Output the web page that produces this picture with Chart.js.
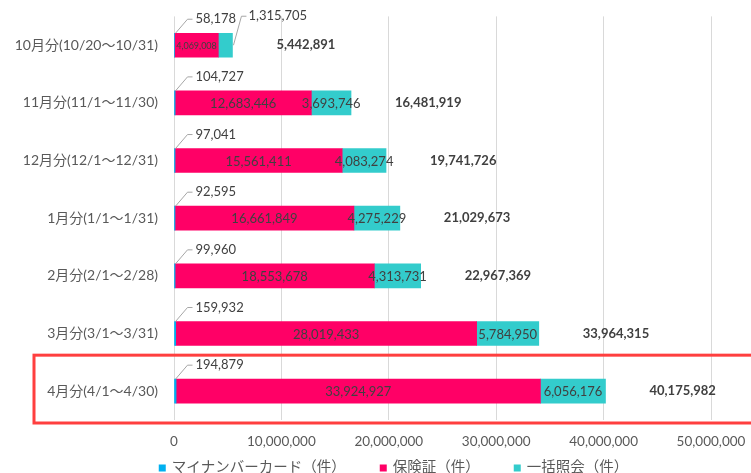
<!DOCTYPE html>
<html>
<head>
<meta charset="utf-8">
<script src="https://cdn.jsdelivr.net/npm/chart.js@4.4.0/dist/chart.umd.min.js"></script>
<style>
  html, body { margin: 0; padding: 0; background: #fff; }
  #wrap { width: 751px; height: 473px; }
</style>
</head>
<body>
<div id="wrap"><canvas id="bar-chart"></canvas></div>
<script>
// data
var months = ['10月分(10/20～10/31)', '11月分(11/1～11/30)', '12月分(12/1～12/31)',
    '1月分(1/1～1/31)', '2月分(2/1～2/28)', '3月分(3/1～3/31)', '4月分(4/1～4/30)'];
var mynumberData = [58178, 104727, 97041, 92595, 99960, 159932, 194879];
var hokenshoData = [4069008, 12683446, 15561411, 16661849, 18553678, 28019433, 33924927];
var ikkatsuData = [1315705, 3693746, 4083274, 4275229, 4313731, 5784950, 6056176];
var seriesNames = ['マイナンバーカード（件）', '保険証（件）', '一括照会（件）'];
var xTicks = [0, 10000000, 20000000, 30000000, 40000000, 50000000];

var colors = ['#00B0F0', '#FF0066', '#33CCCC'];
var FONT = 'Lato, "Noto Sans CJK JP", sans-serif';
var JP = '"Noto Sans CJK JP", sans-serif';

function fmt(v) { return v.toLocaleString('en-US'); }

// labels, leader lines, totals, highlight box and legend
var labelPlugin = {
    id: 'labels',
    afterDatasetsDraw: function(chart) {
        var ctx = chart.ctx;
        var ys = chart.scales.y;
        ctx.save();
        ctx.textBaseline = 'middle';

        // マイナンバー (tiny) : above the bar with leader line
        chart.getDatasetMeta(0).data.forEach(function(el, i) {
            var base = el.base;
            var top = el.y - el.height / 2;
            var ty = el.y - 26;
            ctx.strokeStyle = '#A6A6A6';
            ctx.lineWidth = 1;
            ctx.beginPath();
            ctx.moveTo(base + 1, top);
            ctx.lineTo(base + 13, ty);
            ctx.lineTo(base + 18, ty);
            ctx.stroke();
            ctx.fillStyle = '#404040';
            ctx.font = '13px ' + FONT;
            ctx.textAlign = 'left';
            ctx.fillText(fmt(mynumberData[i]), base + 21, ty);
        });

        // 保険証 : centered, shrink when it does not fit
        chart.getDatasetMeta(1).data.forEach(function(el, i) {
            var txt = fmt(hokenshoData[i]);
            var w = el.x - el.base;
            var size = 13;
            ctx.font = size + 'px ' + FONT;
            while (ctx.measureText(txt).width > w - 1 && size > 8) {
                size -= 0.5;
                ctx.font = size + 'px ' + FONT;
            }
            ctx.fillStyle = '#404040';
            ctx.textAlign = 'center';
            ctx.fillText(txt, (el.x + el.base) / 2, el.y + 1);
        });

        // 一括照会 : centered or outside with leader
        chart.getDatasetMeta(2).data.forEach(function(el, i) {
            var txt = fmt(ikkatsuData[i]);
            var w = el.x - el.base;
            ctx.font = '13px ' + FONT;
            ctx.fillStyle = '#404040';
            if (w < 25) {
                var ty = el.y - 29;
                ctx.strokeStyle = '#A6A6A6';
                ctx.beginPath();
                ctx.moveTo(el.x + 1, el.y);
                ctx.lineTo(el.x + 9, ty);
                ctx.lineTo(el.x + 14, ty);
                ctx.stroke();
                ctx.textAlign = 'left';
                ctx.fillText(txt, el.x + 16, ty);
            } else {
                ctx.textAlign = 'center';
                ctx.fillText(txt, (el.x + el.base) / 2, el.y + 1);
            }
        });

        // totals
        chart.getDatasetMeta(2).data.forEach(function(el, i) {
            var total = mynumberData[i] + hokenshoData[i] + ikkatsuData[i];
            ctx.font = 'bold 13px ' + FONT;
            ctx.fillStyle = '#404040';
            ctx.textAlign = 'left';
            ctx.fillText(fmt(total), el.x + 44, el.y);
        });

        // red highlight around the last row
        var last = ys.getPixelForValue(months.length - 1);
        ctx.strokeStyle = '#FF3F3F';
        ctx.lineWidth = 3;
        ctx.strokeRect(34, last - 36, 760, chart.chartArea.bottom + 3 - (last - 36));

        // legend
        ctx.font = '14.5px ' + JP;
        ctx.textAlign = 'left';
        var gap = 34, box = 7, widths = [], total = 0;
        seriesNames.forEach(function(n, k) {
            var wd = box + 6 + ctx.measureText(n).width;
            widths.push(wd);
            total += wd + (k ? gap : 0);
        });
        var x = chart.width / 2 + 18 - total / 2;
        var ly = 468;
        seriesNames.forEach(function(n, k) {
            ctx.fillStyle = colors[k];
            ctx.fillRect(x, ly - box / 2, box, box);
            ctx.fillStyle = '#595959';
            ctx.fillText(n, x + box + 6, ly - 2);
            x += widths[k] + gap;
        });
        ctx.restore();
    }
};

var chart = document.querySelector('#bar-chart');
var myChart = new Chart(
    chart, {
        type: 'bar',
        data: {
            labels: months,
            datasets: [{
                label: seriesNames[0],
                data: mynumberData,
                backgroundColor: colors[0]
            },
            {
                label: seriesNames[1],
                data: hokenshoData,
                backgroundColor: colors[1]
            },
            {
                label: seriesNames[2],
                data: ikkatsuData,
                backgroundColor: colors[2]
            }]
        },
        options: {
            indexAxis: 'y',
            responsive: true,
            maintainAspectRatio: false,
            animation: false,
            datasets: {
                bar: { barThickness: 24 }
            },
            layout: {
                padding: { top: 6, right: 0, bottom: 0, left: 0 }
            },
            plugins: {
                legend: { display: false },
                tooltip: { enabled: false }
            },
            scales: {
                x: {
                    stacked: true,
                    min: 0,
                    max: 50000000,
                    afterBuildTicks: function(axis) {
                        axis.ticks = xTicks.map(function(v) { return { value: v }; });
                    },
                    afterFit: function(axis) {
                        axis.height = 53;
                        axis.paddingRight = 40;
                    },
                    ticks: {
                        color: '#595959',
                        padding: 14,
                        maxRotation: 0,
                        font: { size: 13.5, family: FONT },
                        callback: function(v) { return fmt(v); }
                    },
                    grid: {
                        color: '#D9D9D9',
                        drawTicks: false
                    },
                    border: { display: false }
                },
                y: {
                    stacked: true,
                    afterFit: function(axis) { axis.width = 174; },
                    ticks: {
                        color: '#595959',
                        padding: 8,
                        font: { size: 14, family: FONT }
                    },
                    grid: { display: false },
                    border: { display: false }
                }
            }
        },
        plugins: [labelPlugin]
    }
);
</script>
</body>
</html>
